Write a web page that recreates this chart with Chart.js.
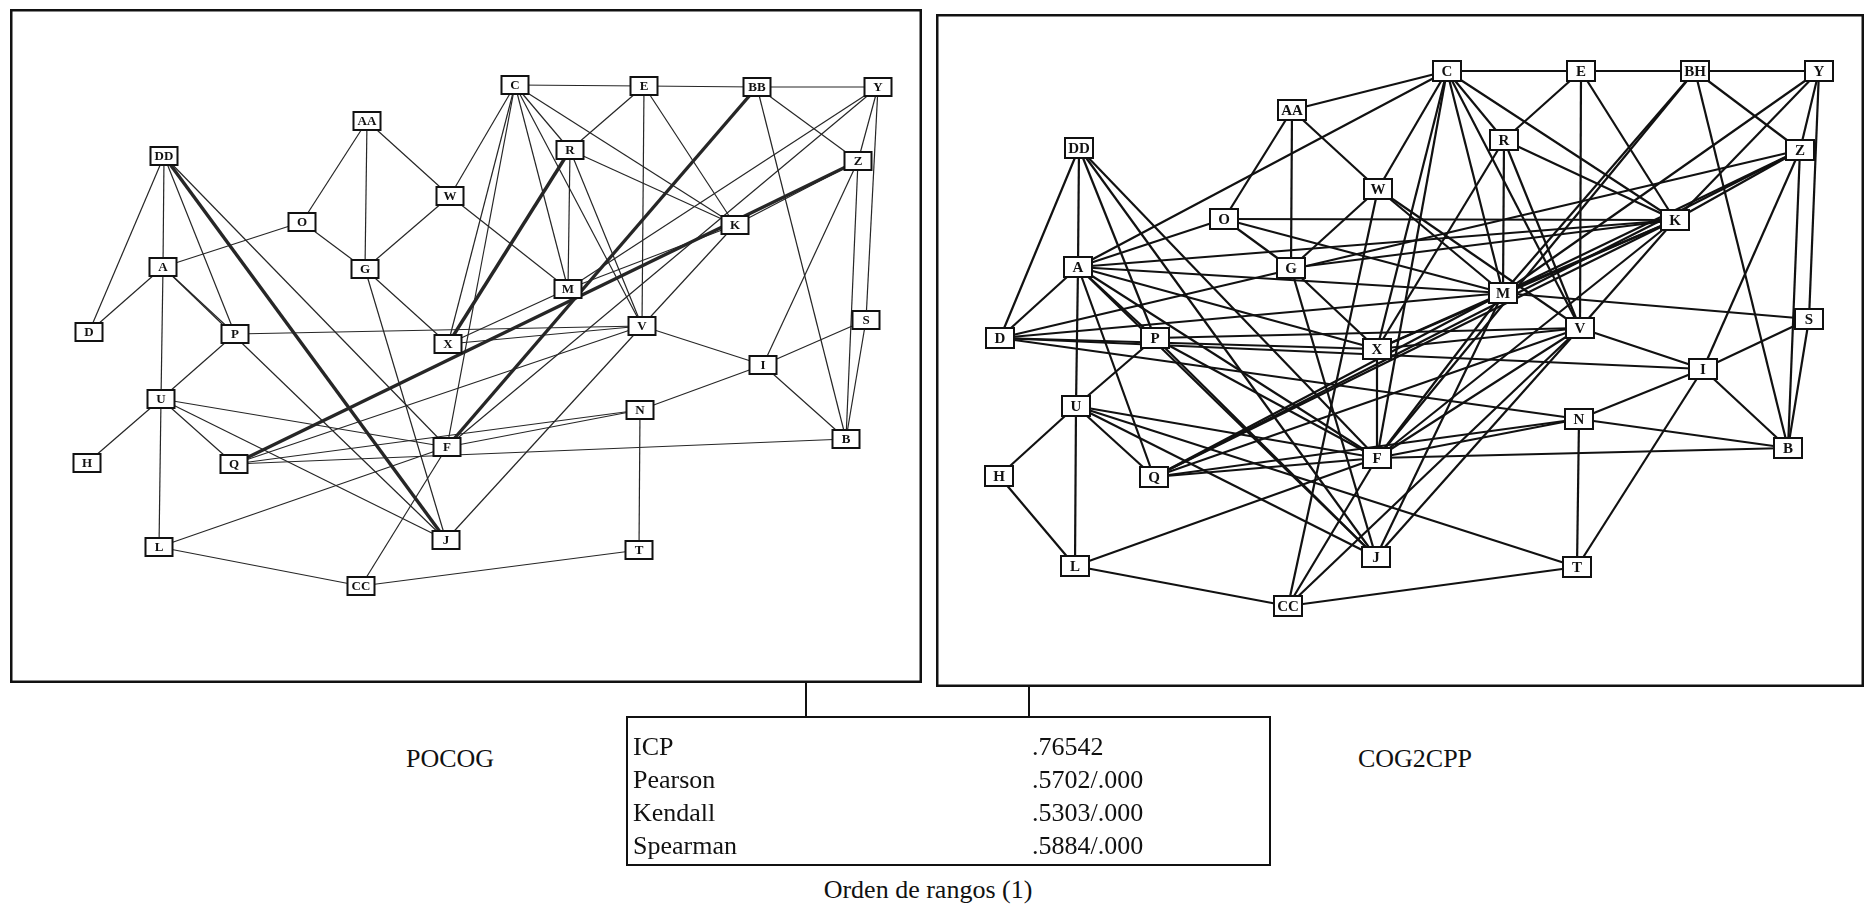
<!DOCTYPE html>
<html>
<head>
<meta charset="utf-8">
<script src="https://cdn.jsdelivr.net/npm/chart.js@4.4.1/dist/chart.umd.min.js"></script>
<style>
  body { margin: 0; background: #fff; width: 1871px; height: 905px; position: relative; overflow: hidden;
         font-family: "Liberation Serif", "Times New Roman", serif; color: #111; }
  .panel { position: absolute; }
  .panel canvas { display: block; }
  .vline { position: absolute; width: 2px; background: #111; }
  .caption { position: absolute; font-size: 26px; line-height: 30px; white-space: nowrap; transform: translateX(-50%); }
  #stats { position: absolute; left: 626px; top: 716px; width: 641px; height: 146px; border: 2px solid #111; }
  #stats div { position: absolute; font-size: 26px; line-height: 30px; white-space: nowrap; }
</style>
</head>
<body>
<div class="panel" style="left:10px;top:9px;width:912px;height:674px"><canvas id="pocog" width="912" height="674"></canvas></div>
<div class="panel" style="left:936px;top:14px;width:928px;height:673px"><canvas id="cog2cpp" width="928" height="673"></canvas></div>
<div class="vline" style="left:805px;top:683px;height:34px"></div>
<div class="vline" style="left:1028px;top:686px;height:31px"></div>
<div id="stats"></div>
<div class="caption" id="cap-left" style="left:450px;top:744px"></div>
<div class="caption" id="cap-right" style="left:1415px;top:744px"></div>
<div class="caption" id="cap-bottom" style="left:928px;top:875px"></div>
<script>
// Two network maps (POCOG vs COG2CPP) + rank-order comparison table.
const nodeNames = ["A","B","C","D","E","F","G","H","I","J","K","L","M","N","O","P","Q","R","S","T","U","V","W","X","Y","Z","AA","BB","CC","DD"];

// ---- POCOG layout (left map) ----
const pocogLabels = nodeNames;
const pocogX = [163,846,515,89,644,447,365,87,763,446,735,159,568,640,302,235,234,570,866,639,161,642,450,448,878,858,367,757,361,164];
const pocogY = [267,439,85,332,86,447,269,463,365,540,225,547,289,410,222,334,464,150,320,550,399,326,196,344,87,161,121,87,586,156];
const pocogEdges = ["AA-O","AA-G","AA-W","DD-D","DD-A","DD-P","DD-F","A-O","O-G","W-G","W-C","W-M","A-D","A-U","A-P","A-J",
  "P-V","X-V","G-X","G-J","C-E","E-BB","BB-Y","C-X","C-F","C-M","C-R","C-V","C-K","E-R","E-V","E-K","BB-Z","BB-B",
  "Y-Z","Y-S","S-B","Y-M","Y-F","R-K","R-M","R-V","K-M","K-V","Z-K","Z-I","Z-B","S-I","V-I","V-J","I-N","I-B",
  "N-F","N-Q","N-T","Q-V","Q-B","X-M","P-U","U-H","U-L","U-Q","U-F","U-J","L-F","L-CC","CC-F","CC-T"];
const pocogStrong = ["DD-J","R-X","BB-F","Z-Q"];

// ---- COG2CPP layout (right map) ----
const cog2Labels = ["A","B","C","D","E","F","G","H","I","J","K","L","M","N","O","P","Q","R","S","T","U","V","W","X","Y","Z","AA","BH","CC","DD"];
const cog2X = [1078,1788,1447,1000,1581,1377,1291,999,1703,1376,1675,1075,1503,1579,1224,1155,1154,1504,1809,1577,1076,1580,1378,1377,1819,1800,1292,1695,1288,1079];
const cog2Y = [267,448,71,338,71,458,268,476,369,557,220,566,293,419,219,338,477,140,319,567,406,328,189,349,71,150,110,71,606,148];
const cog2Edges = ["AA-O","AA-G","AA-W","AA-C","DD-D","DD-A","DD-P","DD-F","DD-J","A-O","A-C","A-K","A-M","M-S","A-X","A-F",
  "A-J","A-P","A-Q","A-U","A-D","O-G","O-K","O-M","W-G","W-C","W-M","W-V","W-CC","G-X","G-J","G-K","D-M","D-X","D-I",
  "D-N","P-U","P-J","P-V","P-F","X-R","X-C","X-V","X-K","X-F","C-E","E-BB","BB-Y","C-F","C-M","C-R","C-K","C-V",
  "E-R","E-V","E-K","BB-M","BB-F","BB-Z","BB-B","Y-M","Y-K","Y-Z","Y-S","S-B","Z-D","Z-K","Z-M","Z-Q","Z-I","Z-B",
  "R-K","R-M","R-V","K-M","K-V","K-F","K-Q","M-X","M-Q","M-F","M-J","V-I","V-F","V-J","V-CC","V-Q","I-N","I-B",
  "I-S","I-T","N-F","N-Q","N-T","N-B","F-B","Q-F","U-H","U-L","U-Q","U-F","U-J","U-T","H-L","L-F","L-CC","CC-F","CC-T"];

// ---- comparison table ----
const statNames = ["ICP", "Pearson", "Kendall", "Spearman"];
const statValues = [".76542", ".5702/.000", ".5303/.000", ".5884/.000"];
const captions = { left: "POCOG", right: "COG2CPP", bottom: "Orden de rangos (1)" };

// boxes with labels drawn on top of the node points, plus the frame round the plot
const nodeBoxes = {
  id: "nodeBoxes",
  afterDatasetsDraw(chart, args, opts) {
    const ctx = chart.ctx;
    const meta = chart.getDatasetMeta(chart.data.datasets.length - 1);
    const raw = chart.data.datasets[chart.data.datasets.length - 1].data;
    ctx.save();
    ctx.font = opts.font;
    ctx.textAlign = "center";
    ctx.textBaseline = "middle";
    meta.data.forEach((el, i) => {
      const w = opts.w, h = opts.h;
      ctx.fillStyle = "#fff";
      ctx.fillRect(el.x - w / 2, el.y - h / 2, w, h);
      ctx.lineWidth = opts.border;
      ctx.strokeStyle = "#111";
      ctx.strokeRect(el.x - w / 2, el.y - h / 2, w, h);
      ctx.fillStyle = "#111";
      ctx.fillText(raw[i].name, el.x, el.y + 1);
    });
    const a = chart.chartArea;
    ctx.lineWidth = 2.5;
    ctx.strokeRect(a.left + 1.25, a.top + 1.25, a.right - a.left - 2.5, a.bottom - a.top - 2.5);
    ctx.restore();
  },
};

function buildMap(canvasId, labels, xs, ys, edges, strong, frame, look) {
  const pt = (n) => { const i = nodeNames.indexOf(n); return { x: xs[i], y: ys[i] }; };
  const seg = (e, width) => {
    const [a, b] = e.split("-");
    return { data: [pt(a), pt(b)], showLine: true, borderColor: look.line, borderWidth: width, pointRadius: 0, tension: 0 };
  };
  const datasets = edges.map((e) => seg(e, look.width)).concat(strong.map((e) => seg(e, look.strong)));
  datasets.push({ data: xs.map((x, i) => ({ x, y: ys[i], name: labels[i] })), pointRadius: 0 });

  return new Chart(document.getElementById(canvasId), {
    type: "scatter",
    data: { datasets },
    options: {
      responsive: false,
      animation: false,
      events: [],
      layout: { padding: 0 },
      plugins: {
        legend: { display: false },
        tooltip: { enabled: false },
        nodeBoxes: look.box,
      },
      scales: {
        x: { type: "linear", min: frame.x0, max: frame.x1, display: false },
        y: { type: "linear", min: frame.y0, max: frame.y1, reverse: true, display: false },
      },
    },
    plugins: [nodeBoxes],
  });
}

buildMap("pocog", pocogLabels, pocogX, pocogY, pocogEdges, pocogStrong,
  { x0: 10, x1: 922, y0: 9, y1: 683 },
  { line: "#262626", width: 1.2, strong: 3.4, box: { w: 27, h: 18, border: 2, font: "bold 13px 'Liberation Serif', serif" } });

buildMap("cog2cpp", cog2Labels, cog2X, cog2Y, cog2Edges, [],
  { x0: 936, x1: 1864, y0: 14, y1: 687 },
  { line: "#111", width: 2.2, strong: 2.2, box: { w: 28, h: 20, border: 2, font: "bold 15px 'Liberation Serif', serif" } });

// table and captions
document.getElementById("stats").innerHTML = statNames
  .map((n, i) => `<div style="left:5px;top:${14 + i * 33}px">${n}</div><div style="left:404px;top:${14 + i * 33}px">${statValues[i]}</div>`)
  .join("");
document.getElementById("cap-left").textContent = captions.left;
document.getElementById("cap-right").textContent = captions.right;
document.getElementById("cap-bottom").textContent = captions.bottom;
</script>
</body>
</html>
